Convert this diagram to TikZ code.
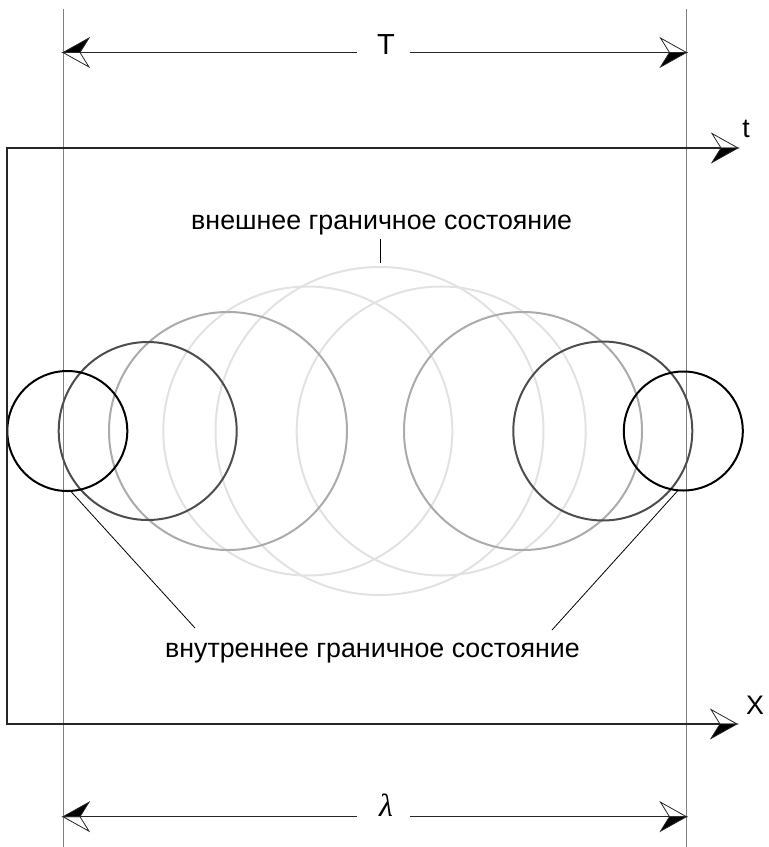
\documentclass[tikz,border=0pt]{standalone}
\usepackage{fontspec}
\setmainfont{Liberation Sans}
\newfontfamily\lamfont{Liberation Serif}
\usetikzlibrary{positioning}

% punta a freccia mezza piena / mezza vuota
\pgfdeclarearrow{
  name = halfdart,
  parameters = {},
  setup code = {
    \pgfarrowssettipend{0pt}
    \pgfarrowssetbackend{-26pt}
    \pgfarrowssetlineend{-17pt}
    \pgfarrowshullpoint{0pt}{0pt}
    \pgfarrowsupperhullpoint{-26pt}{14.5pt}
  },
  drawing code = {
    \pgfsetlinewidth{0.8pt}
    \pgfsetmiterjoin
    \pgfsetfillcolor{white}
    \pgfpathmoveto{\pgfpointorigin}
    \pgfpathlineto{\pgfpoint{-26pt}{14.5pt}}
    \pgfpathlineto{\pgfpoint{-17pt}{0pt}}
    \pgfpathclose
    \pgfusepathqfillstroke
    \pgfsetfillcolor{black}
    \pgfpathmoveto{\pgfpointorigin}
    \pgfpathlineto{\pgfpoint{-26pt}{-14.5pt}}
    \pgfpathlineto{\pgfpoint{-17pt}{0pt}}
    \pgfpathclose
    \pgfusepathqfillstroke
  }
}

\definecolor{ringlight}{HTML}{E2E2E2}
\definecolor{ringgray}{HTML}{ABABAB}
\definecolor{ringdark}{HTML}{4D4D4D}

\begin{document}
\begin{tikzpicture}[x=1pt, y=-1pt, font=\fontsize{26.8}{32}\selectfont]
    % Stili
    \tikzstyle{guide}=[draw=black!50, line width=0.9pt]
    \tikzstyle{axis}=[draw=black!85, line width=1.3pt, halfdart-halfdart]
    \tikzstyle{dim}=[draw=black!85, line width=0.9pt, -halfdart]
    \tikzstyle{leader}=[draw=black, line width=0.8pt]
    \tikzstyle{ring}=[circle, line width=2pt, inner sep=0pt, outer sep=0pt]
    \tikzstyle{label}=[anchor=base, inner sep=4pt]

    \useasboundingbox (0,0) rectangle (769,847);

    % Linee di riferimento
    \coordinate (gl-top) at (63,9);
    \coordinate (gl-bot) at (63,847);
    \coordinate (gr-top) at (686.5,9);
    \coordinate (gr-bot) at (686.5,847);
    \draw [guide] (gl-top) -- (gl-bot);
    \draw [guide] (gr-top) -- (gr-bot);

    % Cerchi
    \node (c5) [ring, draw=ringlight, minimum size=328pt] at (379.5,431) {};
    \node (c4l) [ring, draw=ringlight, minimum size=289pt] at (307.8,431) {};
    \node (c4r) [ring, draw=ringlight, minimum size=289pt] at (441.2,431) {};
    \node (c3l) [ring, draw=ringgray, minimum size=238pt] at (228,431) {};
    \node (c3r) [ring, draw=ringgray, minimum size=238pt] at (523,431) {};
    \node (c2l) [ring, draw=ringdark, minimum size=178pt] at (147.7,431) {};
    \node (c2r) [ring, draw=ringdark, minimum size=179pt] at (602.8,431) {};
    \node (c1l) [ring, draw=black, minimum size=120pt] at (67.3,431) {};
    \node (c1r) [ring, draw=black, minimum size=119pt] at (683.3,431) {};

    % Assi
    \coordinate (o-top) at (7,148);
    \coordinate (o) at (7,724);
    \coordinate (t-end) at (738,148);
    \coordinate (x-end) at (737,724);
    \draw [axis] (t-end) -- (o-top) -- (o) -- (x-end);
    \node (t) [label] at (746,137) {t};
    \node (X) [label] at (755,714.3) {X};

    % Quote
    \node (T) [label, font=\fontsize{29}{34}\selectfont] at (386,54.3) {T};
    \coordinate (T-a) at (357,52.5);
    \coordinate (T-b) at (410,52.5);
    \coordinate (T-l) at (63,52.5);
    \coordinate (T-r) at (686.5,52.5);
    \draw [dim] (T-a) -- (T-l);
    \draw [dim] (T-b) -- (T-r);

    \node (lam) [label, font=\fontsize{32}{38}\lamfont\itshape] at (386,816.7) {λ};
    \coordinate (lam-a) at (357,816.7);
    \coordinate (lam-b) at (410,816.7);
    \coordinate (lam-l) at (63,816.7);
    \coordinate (lam-r) at (686.5,816.7);
    \draw [dim] (lam-a) -- (lam-l);
    \draw [dim] (lam-b) -- (lam-r);

    % Etichette
    \node (outer) [label] at (381.7,229) {внешнее граничное состояние};
    \node (inner) [label] at (372.5,657.3) {внутреннее граничное состояние};
    \coordinate (outer-tick) at (380,263);
    \coordinate (inner-l) at (195,628);
    \coordinate (inner-r) at (552,630);
    \draw [leader] (outer-tick |- outer.south) -- (outer-tick);
    \draw [leader] (c1l.-87) -- (inner-l);
    \draw [leader] (c1r.-95) -- (inner-r);

\end{tikzpicture}
\end{document}
